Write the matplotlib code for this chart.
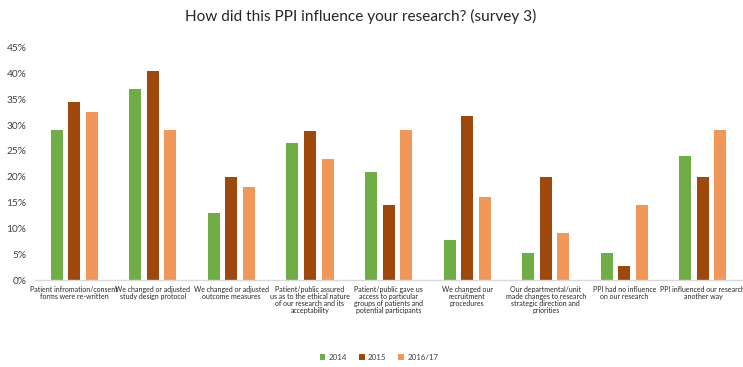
import numpy as np
import matplotlib
matplotlib.use('Agg')
import matplotlib.pyplot as plt
from matplotlib.ticker import FuncFormatter

plt.rcParams['font.family'] = ['Lato', 'DejaVu Sans']

# Survey answers (share of respondents, %)
categories = [
    'Patient infromation/consent\nforms were re-written',
    'We changed or adjusted\nstudy design protocol',
    'We changed or adjusted\noutcome measures',
    'Patient/public assured\nus as to the ethical nature\nof our research and its\nacceptability',
    'Patient/public gave us\naccess to particular\ngroups of patients and\npotential participants',
    'We changed our\nrecruitment\nprocedures',
    'Our departmental/unit\nmade changes to research\nstrategic direction and\npriorities',
    'PPI had no influence\non our research',
    'PPI influenced our research\nanother way',
]
years = ['2014', '2015', '2016/17']
vals_2014 = [29.0, 37.0, 13.0, 26.5, 21.0, 7.7, 5.3, 5.3, 24.0]
vals_2015 = [34.5, 40.5, 20.0, 28.8, 14.5, 31.7, 20.0, 2.7, 20.0]
vals_2016 = [32.5, 29.0, 18.0, 23.5, 29.0, 16.1, 9.2, 14.5, 29.0]
colors = ['#70AD47', '#9E480E', '#F1975A']

fig = plt.figure(figsize=(7.43, 3.67), dpi=100)
ax = fig.add_axes([0.047, 0.237, 0.952, 0.633])

x = np.arange(len(categories))
width = 0.153
step = 0.223
for i, (vals, lab, col) in enumerate(zip([vals_2014, vals_2015, vals_2016], years, colors)):
    ax.bar(x + (i - 1) * step, vals, width, color=col, label=lab)

ax.set_xlim(-0.5, len(categories) - 0.5)
ax.set_ylim(0, 45)
ax.set_yticks(np.arange(0, 46, 5))
ax.yaxis.set_major_formatter(FuncFormatter(lambda v, p: '%d%%' % v))
ax.set_xticks(x)
ax.set_xticklabels(categories, fontsize=5.0, color='#262626', linespacing=1.0)

for s in ['top', 'right', 'left']:
    ax.spines[s].set_visible(False)
ax.spines['bottom'].set_color('#D9D9D9')
ax.spines['bottom'].set_linewidth(1.0)
ax.tick_params(axis='y', length=0, labelsize=7.3, labelcolor='#404040', pad=6)
ax.tick_params(axis='x', length=0, pad=4)

fig.text(0.486, 0.955, 'How did this PPI influence your research? (survey 3)',
         ha='center', va='center', fontsize=11.1, color='#262626')

fig.legend(loc='center', bbox_to_anchor=(0.510, 0.027), ncol=3, frameon=False,
           fontsize=5.7, handlelength=0.75, handleheight=0.75, columnspacing=1.4,
           handletextpad=0.45, labelcolor='#404040')

fig.savefig('out.png', dpi=100)
